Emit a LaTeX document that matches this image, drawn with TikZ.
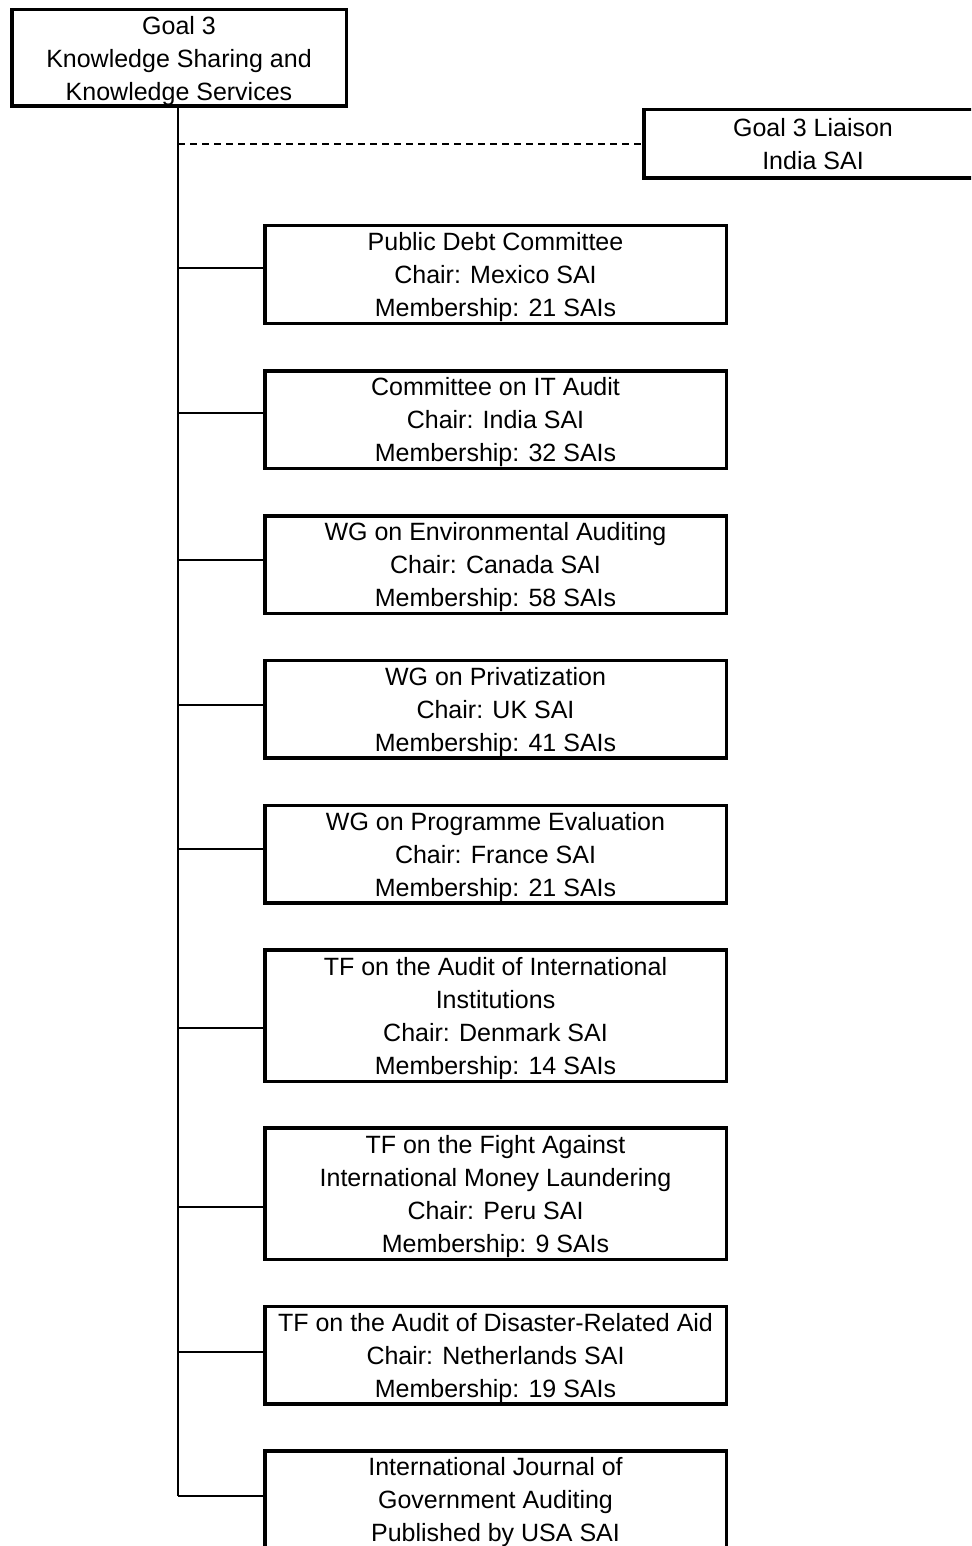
\documentclass[tikz,border=0pt]{standalone}
\usepackage{fontspec}
\setmainfont{Liberation Sans}

\begin{document}
\begin{tikzpicture}[x=1pt, y=-1pt]
	% Configurable lengths
	\def\boxWidth{461.5pt}
	\def\boxHeight{97.5pt}
	\def\tallHeight{131.5pt}

	% Styles
	\tikzstyle{unit}=[draw, rectangle, line width=3.5pt, inner sep=0pt, align=center, text depth=0pt, font={\fontsize{25}{33}\selectfont}]
	\tikzstyle{group}=[unit, minimum width=\boxWidth, minimum height=\boxHeight]
	\tikzstyle{link}=[line width=1.5pt]

	\clip (0,0) rectangle (971,1546);

	% Goal and liaison
	\node[unit, minimum width=334.5pt, minimum height=96.5pt] (goal) at (179,58) {Goal 3\\Knowledge Sharing and\\Knowledge Services};
	\node[unit, minimum width=338.5pt, minimum height=68.5pt] (liaison) at (813,144) {Goal 3 Liaison\\India SAI};

	% Groups
	\node[group] (debt) at (495.5,274.5) {Public Debt Committee\\Chair: Mexico SAI\\Membership: 21 SAIs};
	\node[group] (itaudit) at (495.5,419.5) {Committee on IT Audit\\Chair: India SAI\\Membership: 32 SAIs};
	\node[group] (environ) at (495.5,564.5) {WG on Environmental Auditing\\Chair: Canada SAI\\Membership: 58 SAIs};
	\node[group] (privat) at (495.5,709) {WG on Privatization\\Chair: UK SAI\\Membership: 41 SAIs};
	\node[group] (progeval) at (495.5,854) {WG on Programme Evaluation\\Chair: France SAI\\Membership: 21 SAIs};
	\node[group, minimum height=\tallHeight] (intinst) at (495.5,1015.5) {TF on the Audit of International\\Institutions\\Chair: Denmark SAI\\Membership: 14 SAIs};
	\node[group, minimum height=\tallHeight] (laundry) at (495.5,1193.5) {TF on the Fight Against\\International Money Laundering\\Chair: Peru SAI\\Membership: 9 SAIs};
	\node[group] (disaster) at (495.5,1355) {TF on the Audit of Disaster-Related Aid\\Chair: Netherlands SAI\\Membership: 19 SAIs};
	\node[group] (journal) at (495.5,1499.5) {International Journal of\\Government Auditing\\Published by USA SAI};

	% Junctions on the trunk
	\coordinate (j1) at (178,268);
	\coordinate (j2) at (178,413);
	\coordinate (j3) at (178,560);
	\coordinate (j4) at (178,705);
	\coordinate (j5) at (178,849);
	\coordinate (j6) at (178,1028);
	\coordinate (j7) at (178,1207);
	\coordinate (j8) at (178,1352);
	\coordinate (j9) at (178,1496);

	% Trunk
	\draw[link] (goal.south -| j1) -- (j9);
	\draw[link, dash pattern=on 7pt off 5pt] (j1 |- liaison.west) -- (liaison.west);

	% Branches
	\draw[link] (j1) -- (j1 -| debt.west);
	\draw[link] (j2) -- (j2 -| itaudit.west);
	\draw[link] (j3) -- (j3 -| environ.west);
	\draw[link] (j4) -- (j4 -| privat.west);
	\draw[link] (j5) -- (j5 -| progeval.west);
	\draw[link] (j6) -- (j6 -| intinst.west);
	\draw[link] (j7) -- (j7 -| laundry.west);
	\draw[link] (j8) -- (j8 -| disaster.west);
	\draw[link] (j9) -- (j9 -| journal.west);
\end{tikzpicture}
\end{document}
